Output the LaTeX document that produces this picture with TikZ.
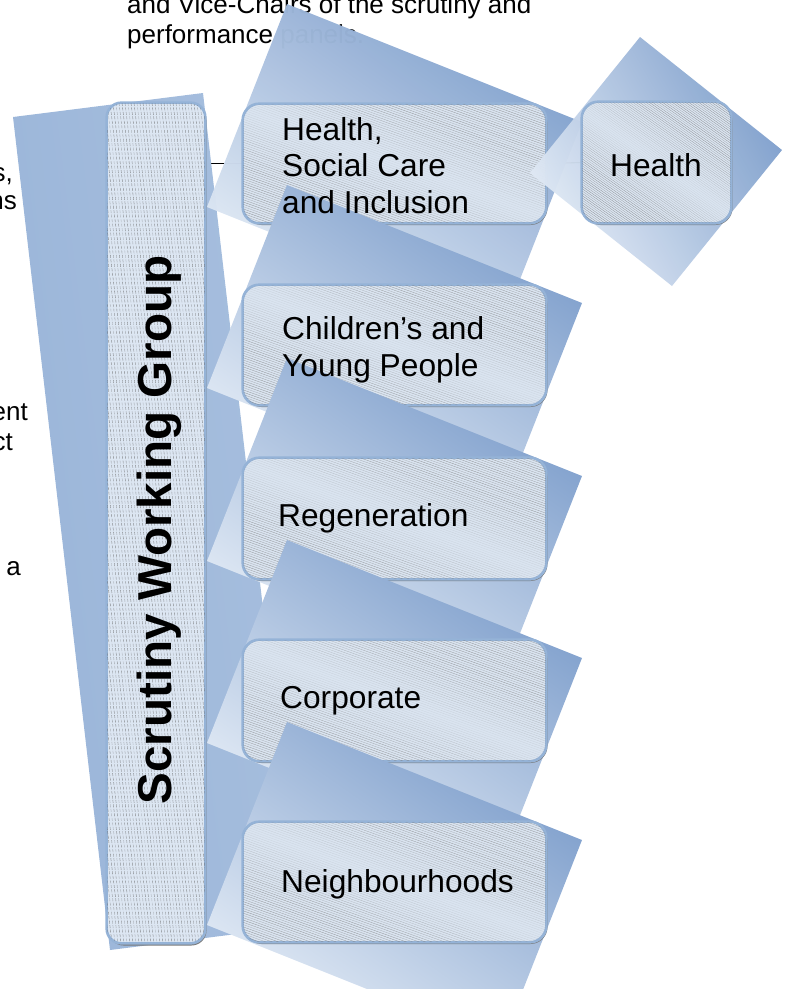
\documentclass[tikz,border=0pt]{standalone}
\usepackage{fontspec}
\setmainfont{Liberation Sans}
\definecolor{qlight}{HTML}{E4ECF6}
\definecolor{qmid}{HTML}{AFC4E1}
\definecolor{qdark}{HTML}{7C9DCB}
\definecolor{swlight}{HTML}{DCE6F2}
\definecolor{swdark}{HTML}{9AB5D9}
\definecolor{bfill}{HTML}{DAE4F0}
\definecolor{bline}{HTML}{95B3D7}
\definecolor{shadowc}{HTML}{7A7A7A}
\pgfdeclarelayer{background}
\pgfdeclarelayer{front}
\pgfsetlayers{background,main,front}
\newcommand\hatchbox[5]{%
\begin{scope}
\clip[rounded corners=17] (#1,#2) rectangle (#3,#4);
\pgfmathsetmacro\hatchW{#3-#1}
\pgfmathsetmacro\hatchMid{(#2+#4)/2-#5*\hatchW/2}
\pgfmathsetmacro\hatchStart{#2-#5*\hatchW}
\pgfmathtruncatemacro\hatchN{(#4-#2+#5*\hatchW)/2.3}
\foreach \k in {0,...,\hatchN}{%
  \pgfmathsetmacro\hatchC{\hatchStart+\k*2.3}
  \pgfmathsetmacro\hatchOp{0.12+0.65*min(1,abs(\hatchC-\hatchMid)/55)*(0.5+0.5*abs(sin(\k*47)))}
  \draw[hatchline, draw opacity=\hatchOp] (#1,\hatchC) -- ++(\hatchW,{#5*\hatchW});
}
\end{scope}}
\begin{document}
\begin{tikzpicture}[x=1pt,y=-1pt,
  boxquad/.style={top color=qdark, middle color=qmid, bottom color=qlight, shading angle=-35},
  panelbox/.style={draw=bline, line width=1.6, fill=bfill, rounded corners=17, inner sep=0},
  hatchline/.style={draw=black!55, line width=0.3},
  btext/.style={inner sep=0, anchor=base west, font=\fontsize{31.7}{36.5}\selectfont},
  ptext/.style={inner sep=0, font=\fontsize{26}{30}\selectfont},
  conn/.style={draw=black, line width=1.1}]
\useasboundingbox (0,0) rectangle (787,989);

% text of the page behind the diagram
\node[ptext, anchor=base west] (top1) at (127,13) {and Vice-Chairs of the scrutiny and};
\node[ptext, anchor=base west] (top2) at (127,43) {performance panels.};
\node[ptext, anchor=base east] (l1) at (13,181) {s,};
\node[ptext, anchor=base east] (l2) at (17,209) {ns};
\node[ptext, anchor=base east] (l3) at (28,420) {ent};
\node[ptext, anchor=base east] (l4) at (13,450) {ct};
\node[ptext, anchor=base east] (l5) at (21,575) {a};

% Scrutiny Working Group
\shade[left color=swdark, middle color=swlight, right color=swdark!80!swlight, shading angle=97]
  (13,117) -- (203,93) -- (300,926) -- (110,950) -- cycle;
\fill[shadowc, rounded corners=15] (108.5,105) rectangle (206.5,945.5);
\node[panelbox, rounded corners=15, fill=swlight, minimum width=98, minimum height=840] (swg) at (156,523) {};
\begin{scope}
\clip[rounded corners=15] (107,103) rectangle (205,943);
\foreach \k in {0,...,66}{%
  \pgfmathsetmacro\swgX{5+\k*3}
  \pgfmathsetmacro\swgOp{0.35+0.45*abs(sin(\k*53))}
  \draw[black!60, line width=0.4, dash pattern=on 3pt off 1.5pt, draw opacity=\swgOp] (\swgX,103) -- ++(101,840);
}
\end{scope}
\draw[bline, line width=1.6, rounded corners=15] (swg.south west) rectangle (swg.north east);

% 1 Health, Social Care and Inclusion
\shade[boxquad, fill opacity=0.98] (287,4) -- (582,122) -- (502,325) -- (207,207) -- cycle;
\fill[shadowc, rounded corners=17] (244.5,105.5) rectangle (547.5,225);
\node[panelbox, minimum width=303, minimum height=119] (b1) at (394.5,163.5) {};
\hatchbox{243}{104}{546}{223}{0.36}
\draw[bline, line width=1.6, rounded corners=17] (b1.south west) rectangle (b1.north east);

% Health
\shade[fill opacity=0.97, top color=qdark, middle color=qmid, bottom color=qlight, shading angle=-60]
  (640,37) -- (782,150) -- (672,286) -- (530,173) -- cycle;
\fill[shadowc, rounded corners=17] (583.5,103.5) rectangle (732.5,225);
\node[panelbox, minimum width=149, minimum height=121] (h) at (656.5,162.5) {};
\hatchbox{582}{102}{731}{223}{0.7}
\draw[bline, line width=1.6, rounded corners=17] (h.south west) rectangle (h.north east);

% 2 Children's and Young People
\shade[boxquad] (287,185) -- (582,303) -- (502,506) -- (207,388) -- cycle;
\fill[shadowc, rounded corners=17] (244.5,286.5) rectangle (547.5,407);
\node[panelbox, minimum width=303, minimum height=120] (b2) at (394.5,345) {};
\hatchbox{243}{285}{546}{405}{0.36}
\draw[bline, line width=1.6, rounded corners=17] (b2.south west) rectangle (b2.north east);

% 3 Regeneration
\shade[boxquad] (287,358) -- (582,476) -- (502,679) -- (207,561) -- cycle;
\fill[shadowc, rounded corners=17] (244.5,459.5) rectangle (547.5,581);
\node[panelbox, minimum width=303, minimum height=121] (b3) at (394.5,518.5) {};
\hatchbox{243}{458}{546}{579}{0.36}
\draw[bline, line width=1.6, rounded corners=17] (b3.south west) rectangle (b3.north east);

% 4 Corporate
\shade[boxquad] (287,540) -- (582,658) -- (502,861) -- (207,743) -- cycle;
\fill[shadowc, rounded corners=17] (244.5,641.5) rectangle (547.5,763);
\node[panelbox, minimum width=303, minimum height=121] (b4) at (394.5,700.5) {};
\hatchbox{243}{640}{546}{761}{0.36}
\draw[bline, line width=1.6, rounded corners=17] (b4.south west) rectangle (b4.north east);

% 5 Neighbourhoods
\shade[boxquad] (287,722) -- (582,840) -- (502,1043) -- (207,925) -- cycle;
\fill[shadowc, rounded corners=17] (244.5,823.5) rectangle (547.5,944);
\node[panelbox, minimum width=303, minimum height=120] (b5) at (394.5,882) {};
\hatchbox{243}{822}{546}{942}{0.36}
\draw[bline, line width=1.6, rounded corners=17] (b5.south west) rectangle (b5.north east);

% texts of the diagram, on top
\begin{pgfonlayer}{front}
\node[rotate=90, anchor=base, inner sep=0, font=\bfseries\fontsize{47.6}{50}\selectfont] (swgt) at (171,530) {Scrutiny Working Group};
\node[btext] (b1a) at (282,140) {Health,};
\node[btext] (b1b) at (282,176) {Social Care};
\node[btext] (b1c) at (282,213) {and Inclusion};
\node[btext] (ht) at (610,176) {Health};
\node[btext] (b2a) at (282,339) {Children’s and};
\node[btext] (b2b) at (282,376) {Young People};
\node[btext] (b3a) at (278,526) {Regeneration};
\node[btext] (b4a) at (280,708) {Corporate};
\node[btext] (b5a) at (281,892) {Neighbourhoods};
\end{pgfonlayer}

% connectors, behind everything
\begin{pgfonlayer}{background}
\draw[conn] (b1.west -| swg.east) -- (b1.west);
\draw[conn] (b2.west -| swg.east) -- (b2.west);
\draw[conn] (b3.west -| swg.east) -- (b3.west);
\draw[conn] (b4.west -| swg.east) -- (b4.west);
\draw[conn] (b5.west -| swg.east) -- (b5.west);
\draw[conn] (b1.east) -- (h.west);
\end{pgfonlayer}
\end{tikzpicture}
\end{document}
